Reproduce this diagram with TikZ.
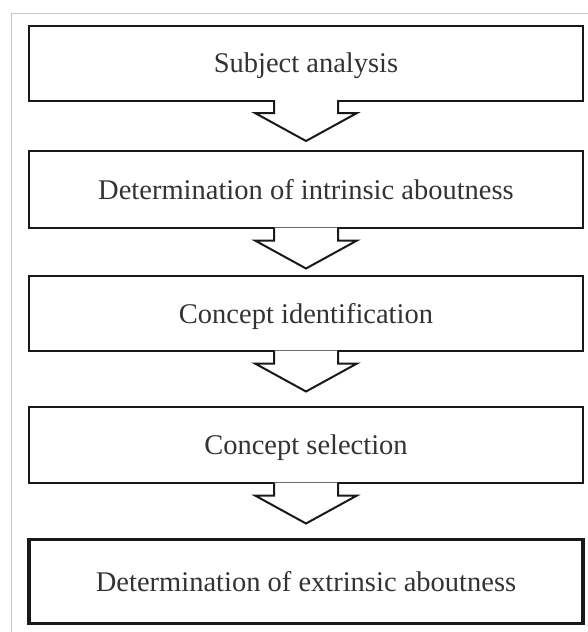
\documentclass[tikz,border=0pt]{standalone}
\usepackage{fontspec}
\setmainfont{Liberation Serif}
\usepackage{tikz}
\usetikzlibrary{calc}
\usetikzlibrary{positioning}

\tikzset{
  stagebox/.style = {rectangle, draw = black!90, line width = 2pt, minimum width = 554pt, minimum height = 75pt, text = black!80, font = \fontsize{28.5}{33}\selectfont, text depth = 0pt, inner sep = 0pt},
  lastbox/.style = {stagebox, line width = 3.4pt, minimum height = 84pt},
  flowarrow/.style = {draw = black!90, line width = 2pt, fill = white, line join = miter}
}

\begin{document}
\begin{tikzpicture}[x=1pt, y=-1pt]
\useasboundingbox (0,0) rectangle (588,632);
\draw[black!22, line width = 1pt] (11,632) -- (11,13) -- (588,13);
\draw (306,63) node[stagebox, name = s1]{Subject analysis};
\draw (s1) + (0,126.5) node[stagebox, minimum height = 77pt, name = s2]{Determination of intrinsic aboutness};
\draw (s2) + (0,124) node[stagebox, name = s3]{Concept identification};
\draw (s3) + (0,131.5) node[stagebox, minimum height = 76pt, name = s4]{Concept selection};
\draw (s4) + (0,136.5) node[lastbox, name = s5]{Determination of extrinsic aboutness};
% hollow arrows between the stages
\foreach \n in {s1,s2,s3,s4}
  \draw[flowarrow] ($(\n.south)+(-32,-1.5)$) -- ++(0,13) -- ++(-19,0) -- ++(51,28) -- ++(51,-28) -- ++(-19,0) -- ++(0,-13);
\end{tikzpicture}
\end{document}
